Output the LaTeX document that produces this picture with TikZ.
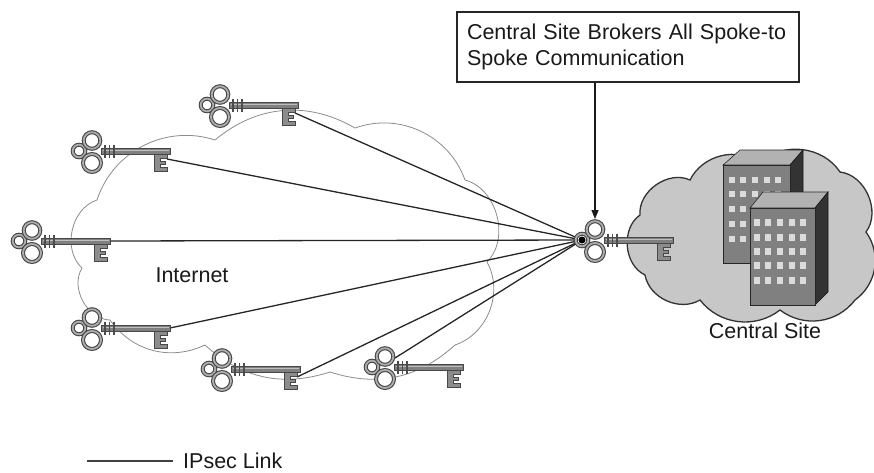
\documentclass[tikz,border=0pt]{standalone}
\usepackage{fontspec}
\setmainfont{Liberation Sans}
\usetikzlibrary{arrows.meta}
\pgfdeclarelayer{back}
\pgfdeclarelayer{mid}
\pgfsetlayers{back,mid,main}
\begin{document}
\begin{tikzpicture}[x=1pt,y=-1pt,
  link/.style={draw=black!85, line width=1.3pt},
  netcloud/.style={draw=black!45, line width=0.8pt, fill=white},
  sitecloud/.style={draw=black!80, line width=1.3pt, fill=black!22},
  bldfront/.style={fill=black!50, draw=black!85, line width=0.6pt},
  bldtop/.style={fill=black!30, draw=black!85, line width=0.6pt},
  bldside/.style={fill=black!80, draw=black!90, line width=0.6pt},
  win/.style={fill=black!14},
  ring/.style={draw=black!72, line width=1.1pt, double=black!32, double distance=1.8pt, fill=white},
  keyedge/.style={draw=black!72, line width=0.8pt},
  lbl/.style={font=\fontsize{21.5}{26}\selectfont, text=black!90, inner sep=0pt},
  callout/.style={draw=black!85, line width=1.3pt, fill=white, align=left,
    text width=322pt, inner xsep=10pt, minimum height=70pt,
    font=\fontsize{21.5}{26}\selectfont, text=black!90},
  skey/.pic={
    % shaft
    \filldraw[keyedge, fill=black!50] (-69,-3) rectangle (0,3);
    \draw[black!25, line width=0.9pt] (-67,-0.8) -- (-1,-0.8);
    % bit
    \filldraw[keyedge, fill=black!45] (-16,3) -- (-16,20) -- (-3,20) -- (-3,16.5)
      -- (-9.5,16.5) -- (-9.5,13) -- (-5,13) -- (-5,10) -- (-9.5,10) -- (-9.5,7)
      -- (-3,7) -- (-3,3) -- cycle;
    % collar
    \foreach \xx in {-65,-60.5,-56} \draw[black!70, line width=1.5pt] (\xx,-6.5) -- (\xx,6.5);
    % bow
    \foreach \cx/\cy/\r in {-91/0/6.3, -78/-10.5/8.3, -78/12/9}
      \draw[ring] (\cx,\cy) circle[radius=\r];
    \coordinate (-end) at (0,0);
    \coordinate (-tip) at (-3,8);
    \coordinate (-bow) at (-68,-9);
    \coordinate (-hub) at (-91,0);
    \coordinate (-top) at (-78,-21);
  }]
\useasboundingbox (0,0) rectangle (874,472);

\begin{pgfonlayer}{back}
  % Internet cloud
  \draw[netcloud] (97,200) to[bend left=45] (215,140) to[bend left=35] (355,128)
    to[bend left=45] (465,180) to[bend left=60] (487,262) to[bend left=50] (455,345)
    to[bend left=30] (330,372) to[bend left=30] (205,345) to[bend left=40] (110,320)
    to[bend left=60] (82,268) to[bend left=60] (97,200) -- cycle;
  % central site cloud
  \filldraw[sitecloud] (640,215) to[bend left=60] (690,180) to[bend left=50] (760,163)
    to[bend left=50] (840,172) to[bend left=60] (866,232) to[bend left=45] (855,300)
    to[bend left=45] (780,310) to[bend left=45] (700,300) to[bend left=55] (645,275)
    to[bend left=60] (640,215) -- cycle;
  % rear building
  \filldraw[bldtop] (723,165) -- (740,150) -- (803,150) -- (790,165) -- cycle;
  \filldraw[bldside] (790,165) -- (803,150) -- (803,250) -- (790,263) -- cycle;
  \filldraw[bldfront] (723,165) rectangle (790,263);
  \foreach \wx in {732,743,755,767,778}
    \foreach \wy in {180,194,209,224,239}
      \fill[win] (\wx-3,\wy-3) rectangle (\wx+3,\wy+3);
  % front building
  \filldraw[bldtop] (750,208) -- (763,192) -- (828,192) -- (815,208) -- cycle;
  \filldraw[bldside] (815,208) -- (828,192) -- (828,292) -- (815,305) -- cycle;
  \filldraw[bldfront] (750,208) rectangle (815,305);
  \foreach \wx in {757,768,780,792,803}
    \foreach \wy in {222,237,251,265,280}
      \fill[win] (\wx-3,\wy-3.5) rectangle (\wx+3,\wy+3.5);
\end{pgfonlayer}

% keys
\pic (hub) at (673,240) {skey};
\pic (k1) at (298,105) {skey};
\pic (k2) at (170,151) {skey};
\pic (k3) at (110,241) {skey};
\pic (k4) at (170,328) {skey};
\pic (k5) at (300,369) {skey};
\pic (k6) at (463,367) {skey};

% IPsec links to the central site
\begin{pgfonlayer}{mid}
  \draw[link] (k1-tip) -- (hub-hub);
  \draw[link] (k2-tip) -- (hub-hub);
  \draw[link] (k3-end) -- (hub-hub);
  \draw[link] (k4-end) -- (hub-hub);
  \draw[link] (k5-tip) -- (hub-hub);
  \draw[link] (k6-bow) -- (hub-hub);
\end{pgfonlayer}
\fill[black] (hub-hub) circle[radius=3.5];

% callout
\node[callout] (note) at (628,47) {Central Site Brokers All Spoke-to\\Spoke Communication};
\draw[black!90, line width=1.3pt, -{Triangle[length=9pt,width=7pt]}] (note.south -| hub-top) -- (hub-top);

% labels
\node[lbl] (inet) at (192,275) {Internet};
\node[lbl] (site) at (765,331) {Central Site};

% legend
\coordinate (lg1) at (87,461);
\coordinate (lg2) at (173,461);
\draw[black!75, line width=2pt] (lg1) -- (lg2);
\node[lbl, anchor=west] (lgt) at (183,461) {IPsec Link};
\end{tikzpicture}
\end{document}
